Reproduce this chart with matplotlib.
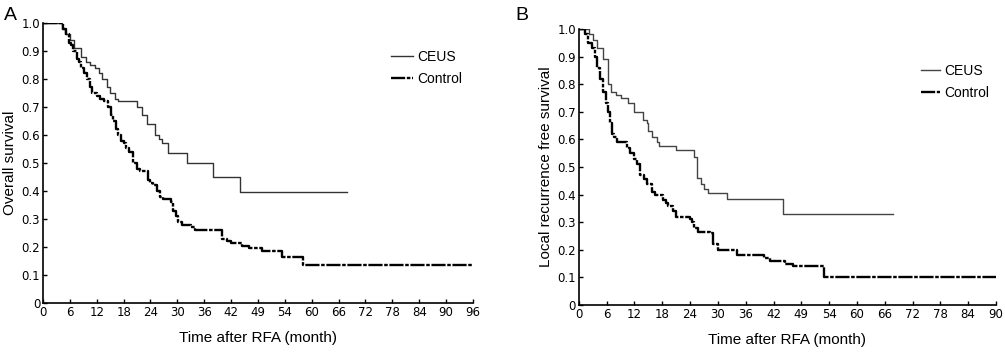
import numpy as np
import matplotlib
matplotlib.use("Agg")
import matplotlib.pyplot as plt

# ---- panel A: overall survival ----
a_ceus_t = [0, 4.2, 5.0, 6.0, 6.9, 8.5, 9.5, 10.5, 11.6, 12.4, 13.2, 14.2, 15.0, 16.0, 16.8, 21.0, 22.0, 23.2, 25.0, 25.8, 26.6, 28.0, 32.1, 38.0, 44.0, 67.9]
a_ceus_s = [1.0, 0.98, 0.96, 0.94, 0.91, 0.88, 0.86, 0.85, 0.84, 0.82, 0.80, 0.77, 0.75, 0.73, 0.72, 0.70, 0.67, 0.64, 0.60, 0.585, 0.57, 0.535, 0.50, 0.45, 0.397, 0.397]

a_ctrl_t = [0, 4.5, 5.2, 5.8, 6.2, 6.7, 7.5, 8.0, 8.5, 9.2, 9.8, 10.4, 10.9, 12.0, 12.7, 13.6, 14.5, 15.1, 15.7, 16.2, 16.8, 17.4, 18.0, 18.6, 19.1, 20.0, 21.0, 21.6, 23.5, 24.0, 24.5, 25.4, 26.2, 26.8, 28.6, 29.0, 29.6, 30.2, 31.0, 33.0, 34.0, 40.0, 41.0, 42.0, 44.5, 46.0, 49.0, 53.4, 58.0, 96.0]
a_ctrl_s = [1.0, 0.98, 0.96, 0.93, 0.92, 0.90, 0.87, 0.86, 0.84, 0.82, 0.80, 0.77, 0.75, 0.74, 0.73, 0.72, 0.70, 0.67, 0.65, 0.62, 0.60, 0.58, 0.57, 0.555, 0.54, 0.50, 0.48, 0.47, 0.44, 0.43, 0.42, 0.40, 0.38, 0.37, 0.36, 0.33, 0.31, 0.29, 0.28, 0.27, 0.26, 0.23, 0.22, 0.215, 0.205, 0.195, 0.185, 0.165, 0.135, 0.135]

# ---- panel B: local recurrence free survival ----
b_ceus_t = [0, 2.2, 3.0, 4.0, 5.2, 6.3, 7.0, 8.0, 9.0, 10.6, 12.0, 13.8, 14.6, 15.0, 15.8, 16.8, 17.3, 21.0, 24.8, 25.4, 26.3, 27.1, 27.9, 32.0, 44.0, 67.8]
b_ceus_s = [1.0, 0.98, 0.96, 0.93, 0.89, 0.80, 0.77, 0.76, 0.75, 0.73, 0.70, 0.67, 0.66, 0.63, 0.61, 0.59, 0.575, 0.56, 0.535, 0.46, 0.44, 0.42, 0.405, 0.385, 0.33, 0.33]

b_ctrl_t = [0, 1.3, 2.0, 2.8, 3.5, 4.0, 4.6, 5.2, 5.8, 6.3, 6.8, 7.1, 7.6, 8.2, 10.3, 11.0, 12.0, 12.5, 13.2, 14.0, 14.7, 15.7, 16.5, 18.1, 18.7, 19.3, 20.3, 21.0, 24.0, 24.5, 24.9, 25.7, 28.3, 29.0, 30.0, 34.1, 40.0, 41.2, 44.5, 46.2, 53.0, 90.0]
b_ctrl_s = [1.0, 0.98, 0.95, 0.93, 0.90, 0.86, 0.82, 0.77, 0.73, 0.70, 0.66, 0.62, 0.61, 0.59, 0.57, 0.55, 0.53, 0.51, 0.47, 0.455, 0.44, 0.41, 0.40, 0.38, 0.37, 0.36, 0.34, 0.32, 0.31, 0.30, 0.28, 0.265, 0.26, 0.22, 0.20, 0.18, 0.17, 0.16, 0.15, 0.14, 0.10, 0.10]

a_xticks = [0, 6, 12, 18, 24, 30, 36, 42, 48, 54, 60, 66, 72, 78, 84, 90, 96]
a_xlabels = ['0', '6', '12', '18', '24', '30', '36', '42', '49', '54', '60', '66', '72', '78', '84', '90', '96']
b_xticks = [0, 6, 12, 18, 24, 30, 36, 42, 48, 54, 60, 66, 72, 78, 84, 90]
b_xlabels = ['0', '6', '12', '18', '24', '30', '36', '42', '49', '54', '60', '66', '72', '78', '84', '90']
yticks = [0, 0.1, 0.2, 0.3, 0.4, 0.5, 0.6, 0.7, 0.8, 0.9, 1.0]
ylabels = ['0', '0.1', '0.2', '0.3', '0.4', '0.5', '0.6', '0.7', '0.8', '0.9', '1.0']

ctrl_style = (0, (6, 0.7, 1.5, 0.7))
lab_font = 'Liberation Sans'

fig = plt.figure(figsize=(10.05, 3.53), dpi=100)
axA = fig.add_axes([0.0428, 0.1416, 0.4278, 0.7932])
axB = fig.add_axes([0.576, 0.136, 0.415, 0.782])


def style_ax(ax, xmax, xticks, xlabels, ylab):
    ax.set_xlim(0, xmax)
    ax.set_ylim(0, 1.0)
    for s in ['top', 'right']:
        ax.spines[s].set_visible(False)
    for s in ['left', 'bottom']:
        ax.spines[s].set_linewidth(1.2)
    ax.set_xticks(xticks)
    ax.set_xticklabels(xlabels)
    ax.set_yticks(yticks)
    ax.set_yticklabels(ylabels)
    ax.tick_params(direction='in', length=3, width=1, labelsize=8.5, pad=2)
    ax.set_xlabel('Time after RFA (month)', fontsize=11, family=lab_font, labelpad=9)
    ax.set_ylabel(ylab, fontsize=11, family=lab_font, labelpad=3)


axA.step(a_ceus_t, a_ceus_s, where='post', color='#333333', lw=1.0, label='CEUS')
axA.step(a_ctrl_t, a_ctrl_s, where='post', color='black', lw=1.7, ls=ctrl_style, label='Control')
style_ax(axA, 96, a_xticks, a_xlabels, 'Overall survival')
axA.legend(loc='upper left', bbox_to_anchor=(0.78, 0.95), frameon=False,
           handlelength=1.6, handletextpad=0.3, labelspacing=0.6, prop={'family': lab_font, 'size': 10})

axB.step(b_ceus_t, b_ceus_s, where='post', color='#444444', lw=1.0, label='CEUS')
axB.step(b_ctrl_t, b_ctrl_s, where='post', color='black', lw=1.7, ls=ctrl_style, label='Control')
style_ax(axB, 90, b_xticks, b_xlabels, 'Local recurrence free survival')
axB.legend(loc='upper left', bbox_to_anchor=(0.79, 0.92), frameon=False,
           handlelength=1.4, handletextpad=0.3, labelspacing=0.6, prop={'family': lab_font, 'size': 10})

fig.text(0.004, 0.955, 'A', fontsize=14, family=lab_font, va='center')
fig.text(0.513, 0.955, 'B', fontsize=14, family=lab_font, va='center')

fig.savefig('out.png', dpi=100)
